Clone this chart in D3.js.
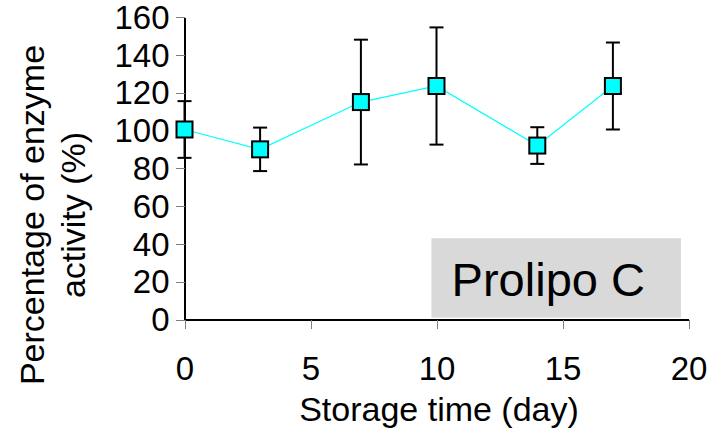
<!doctype html>
<html>
  <head>
    <script src="https://cdnjs.cloudflare.com/ajax/libs/d3/7.8.5/d3.min.js"></script>
    <style>
      body { margin: 0; background: #fff; }
      text { font-family: Arial, "Liberation Sans", sans-serif; fill: #000; }
      .axis path, .axis line { stroke: #000; shape-rendering: crispEdges; }
      .axis .tick line { stroke: #7f7f7f; }
    </style>
  </head>
  <body>
    <svg width="715" height="432"></svg>
    <script>
      // storage days, mean activity (%) and error (+/-)
      var days = [0, 3, 7, 10, 14, 17];
      var activity = [100.5, 90, 115, 123.5, 92, 123.5];
      var errors = [15, 11.5, 33, 31, 9.7, 23];
      var xTicks = [0, 5, 10, 15, 20];
      var yTicks = [0, 20, 40, 60, 80, 100, 120, 140, 160];
      var labelText = "Prolipo C";

      var svg = d3.select("svg");
      var x = d3.scaleLinear().domain([0, 20]).range([184.5, 688.5]);
      var y = d3.scaleLinear().domain([0, 160]).range([319.5, 17]);

      // grey label box
      svg.append("rect")
          .attr("x", x(9.8)).attr("y", y(43))
          .attr("width", x(19.7) - x(9.8)).attr("height", y(1) - y(43))
          .attr("fill", "#d9d9d9");
      svg.append("text")
          .attr("x", x(10.6)).attr("y", 296)
          .attr("font-size", 47)
          .text(labelText);

      var xAxis = svg.append("g").attr("class", "axis")
          .attr("transform", "translate(0," + y(0) + ")")
          .call(d3.axisBottom(x).tickValues(xTicks).tickSize(9).tickSizeOuter(0).tickPadding(28));
      var yAxis = svg.append("g").attr("class", "axis")
          .attr("transform", "translate(" + x(0) + ",0)")
          .call(d3.axisLeft(y).tickValues(yTicks).tickSize(9).tickSizeOuter(0).tickPadding(6));
      svg.selectAll(".axis text").attr("font-size", 33).attr("font-family", "Arial, 'Liberation Sans', sans-serif");
      yAxis.selectAll(".tick text").attr("dy", "0.34em");
      svg.selectAll(".axis path").attr("stroke-width", 1.5);

      svg.append("text")
          .attr("x", 439).attr("y", 421)
          .attr("text-anchor", "middle").attr("font-size", 34)
          .text("Storage time (day)");

      var yTitle = svg.append("text")
          .attr("transform", "translate(44,215) rotate(-90)")
          .attr("text-anchor", "middle").attr("font-size", 34);
      yTitle.append("tspan").attr("x", 0).attr("y", 0).text("Percentage of enzyme");
      yTitle.append("tspan").attr("x", 0).attr("y", 41).text("activity (%)");

      var pts = days.map((d, i) => ({ d: d, v: activity[i], e: errors[i] }));

      // error bars
      var eb = svg.append("g").attr("stroke", "#000").attr("stroke-width", 2);
      pts.forEach(p => {
        eb.append("line").attr("x1", x(p.d)).attr("x2", x(p.d))
          .attr("y1", y(p.v - p.e)).attr("y2", y(p.v + p.e));
        [p.v - p.e, p.v + p.e].forEach(v => {
          eb.append("line").attr("x1", x(p.d) - 7).attr("x2", x(p.d) + 7)
            .attr("y1", y(v)).attr("y2", y(v));
        });
      });

      svg.append("path")
          .datum(pts)
          .attr("fill", "none").attr("stroke", "#00ffff").attr("stroke-width", 1.2)
          .attr("d", d3.line().x(p => x(p.d)).y(p => y(p.v)));

      svg.selectAll("rect.pt")
          .data(pts)
          .enter().append("rect")
          .attr("class", "pt")
          .attr("x", p => x(p.d) - 8).attr("y", p => y(p.v) - 8)
          .attr("width", 16).attr("height", 16)
          .attr("fill", "#00ffff").attr("stroke", "#000").attr("stroke-width", 2);
    </script>
  </body>
</html>
